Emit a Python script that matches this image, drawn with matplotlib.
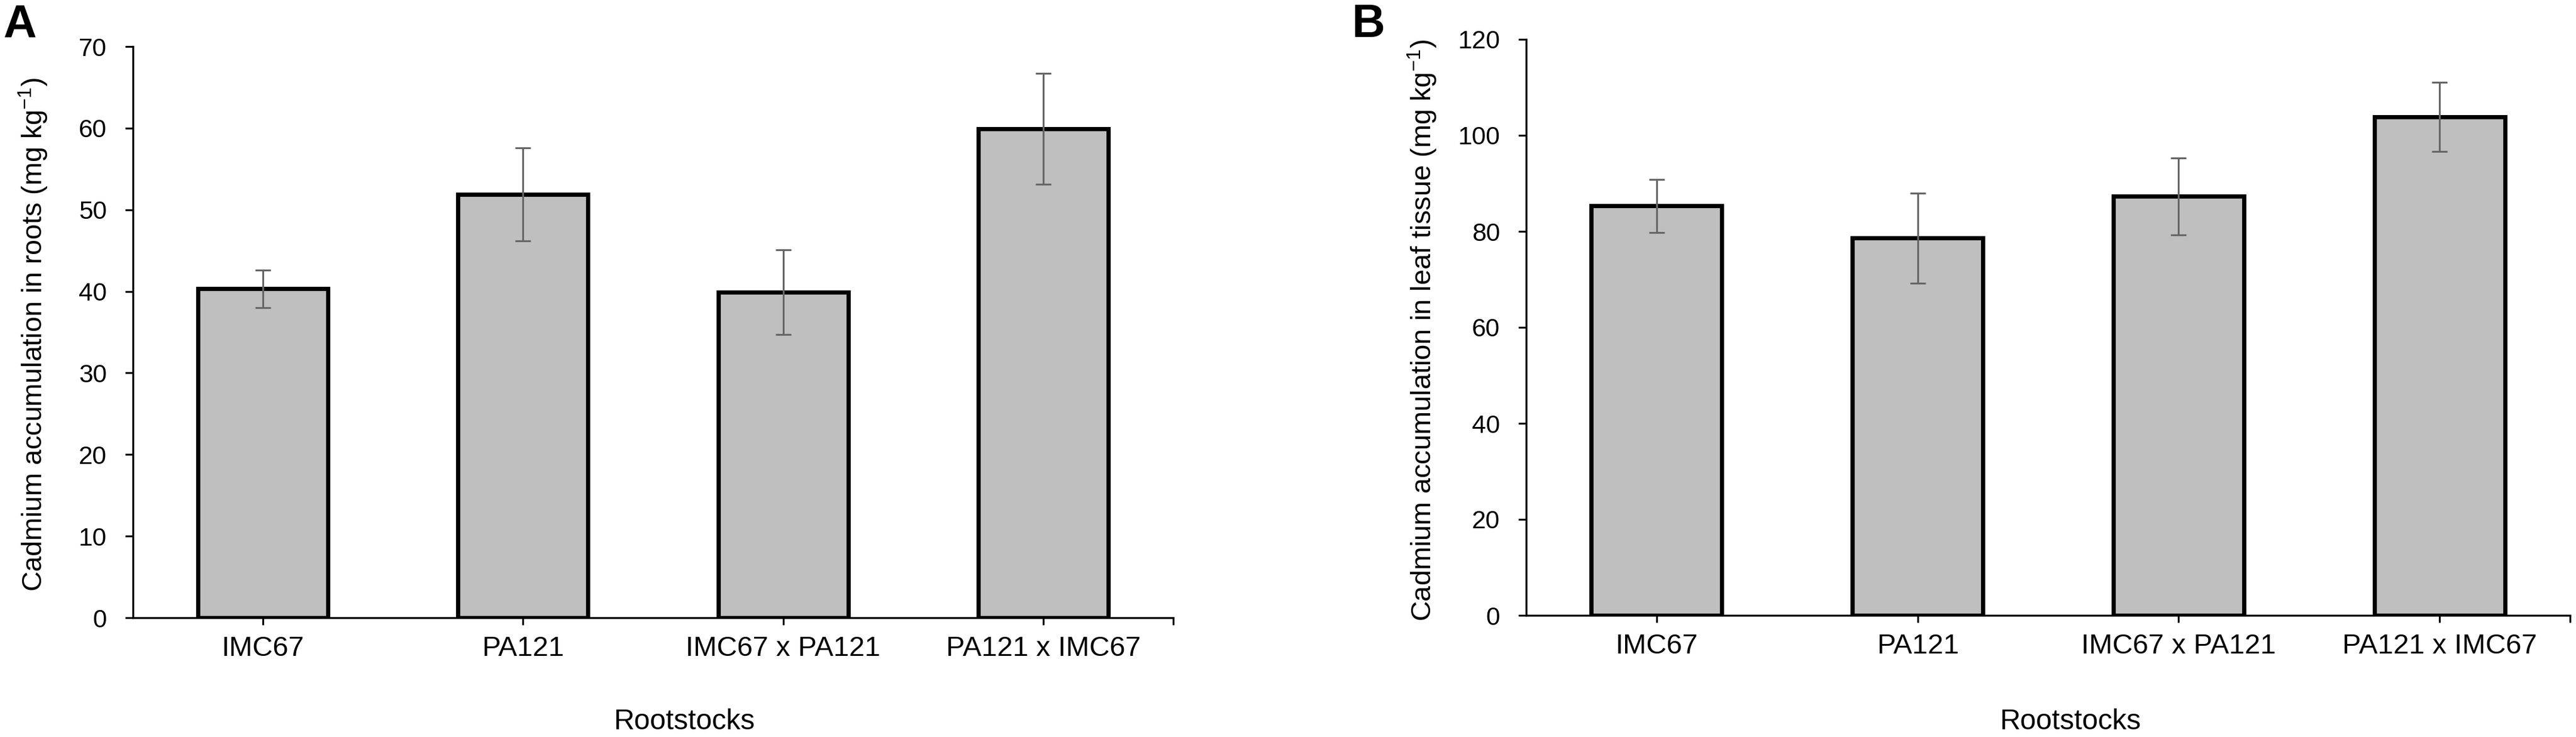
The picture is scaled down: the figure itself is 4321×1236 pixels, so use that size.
import numpy as np
import matplotlib
matplotlib.use("Agg")
import matplotlib.pyplot as plt

# ====== data ======
rootstocks = ["IMC67", "PA121", "IMC67 x PA121", "PA121 x IMC67"]

cd_roots = [40.3, 51.9, 39.9, 59.9]        # panel A, mg kg-1
cd_roots_err = [2.3, 5.7, 5.2, 6.8]

cd_leaf = [85.3, 78.6, 87.3, 103.8]        # panel B, mg kg-1
cd_leaf_err = [5.5, 9.4, 8.0, 7.2]

# ====== style ======
plt.rcParams['font.family'] = ['Liberation Sans', 'DejaVu Sans']
plt.rcParams['mathtext.fontset'] = 'custom'
plt.rcParams['mathtext.rm'] = 'Liberation Sans'
plt.rcParams['mathtext.it'] = 'Liberation Sans:italic'
plt.rcParams['mathtext.bf'] = 'Liberation Sans:bold'

W, H = 4321, 1236
fig = plt.figure(figsize=(W / 300, H / 300), dpi=300)


def px_axes(x0, x1, y_top, y_bot):
    # pixel box -> figure fraction
    return [x0 / W, 1 - y_bot / H, (x1 - x0) / W, (y_bot - y_top) / H]


def draw_panel(ax, vals, errs, ymax, ystep):
    x = np.arange(len(rootstocks))
    ax.bar(x, vals, width=0.5, color='#BFBFBF', edgecolor='black',
           linewidth=1.7, zorder=2)
    ax.errorbar(x, vals, yerr=errs, fmt='none', ecolor='#666666',
                elinewidth=0.75, capsize=3.2, capthick=0.75, zorder=3)

    ax.set_xlim(-0.5, len(rootstocks) - 0.5)
    ax.set_ylim(0, ymax)
    ax.set_yticks(np.arange(0, ymax + 1, ystep))
    ax.set_xticks(x)
    ax.set_xticklabels(rootstocks, fontsize=11.3)
    ax.set_xticks([len(rootstocks) - 0.5], minor=True)

    for s in ['top', 'right']:
        ax.spines[s].set_visible(False)
    for s in ['left', 'bottom']:
        ax.spines[s].set_linewidth(0.8)

    ax.tick_params(axis='y', direction='out', length=3.1, width=0.75,
                   labelsize=10.2, pad=7.4)
    ax.tick_params(axis='x', which='both', direction='out', length=2.9,
                   width=0.75, pad=4.4)
    return ax


def ylabel_fit(text, x_px, y_top, y_bot):
    # rotated label, sized so that it spans y_top..y_bot pixels
    t = fig.text(x_px / W, 1 - (y_top + y_bot) / 2 / H, text, rotation=90,
                 ha='center', va='center', fontsize=11.4)
    fig.canvas.draw()
    h = t.get_window_extent().height
    t.set_fontsize(11.4 * (y_bot - y_top) / h)
    return t


# panel A
axA = fig.add_axes(px_axes(223, 1968, 78, 1036))
draw_panel(axA, cd_roots, cd_roots_err, 70, 10)
axA.text(0.53, -0.195, "Rootstocks", ha='center', va='baseline',
         fontsize=11.5, transform=axA.transAxes)

# panel B
axB = fig.add_axes(px_axes(2560, 4311, 66, 1032))
draw_panel(axB, cd_leaf, cd_leaf_err, 120, 20)
axB.text(0.521, -0.198, "Rootstocks", ha='center', va='baseline',
         fontsize=11.5, transform=axB.transAxes)

ylabel_fit("Cadmium accumulation in roots (mg kg$^{-1}$)", 56, 130, 992)
ylabel_fit("Cadmium accumulation in leaf tissue (mg kg$^{-1}$)", 2386, 66, 1041)

# panel letters
fig.text(5 / W, 1 - 62 / H, "A", fontsize=18.5, fontweight='bold',
         ha='left', va='baseline')
fig.text(2268 / W, 1 - 62 / H, "B", fontsize=18.5, fontweight='bold',
         ha='left', va='baseline')

fig.savefig("out.png", dpi=300)
